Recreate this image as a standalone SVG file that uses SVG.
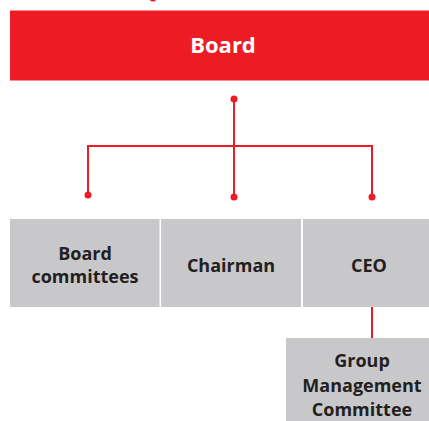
<svg xmlns="http://www.w3.org/2000/svg" width="429" height="421" viewBox="0 0 429 421">
<style>
.box{fill:#c8c8ca}
.t{font-family:"Open Sans","Noto Sans",sans-serif;font-weight:bold;font-size:18px;fill:#231f20;text-anchor:middle}
.w{font-family:"Open Sans","Noto Sans",sans-serif;font-weight:bold;font-size:22px;fill:#ffffff;text-anchor:middle}
.ln{stroke:#ed1c24;stroke-width:2;fill:none}
.dot{fill:#ed1c24}
</style>
<rect width="429" height="421" fill="#ffffff"/>
<circle class="dot" cx="153" cy="-2" r="3.5"/>
<g id="board">
<rect x="10" y="10.5" width="419" height="70" fill="#ed1c24"/>
<text class="w" x="223" y="53">Board</text>
</g>
<g id="connectors">
<path class="ln" d="M234 99V197M88 195V146H372V197"/>
<path class="ln" d="M372 307V338"/>
<circle class="dot" cx="234" cy="99" r="3.5"/>
<circle class="dot" cx="88" cy="195" r="3.5"/>
<circle class="dot" cx="234" cy="197" r="3.5"/>
<circle class="dot" cx="372" cy="197" r="3.5"/>
</g>
<g id="board-committees">
<rect class="box" x="10" y="219" width="149.5" height="88"/>
<text class="t" x="85" y="260">Board</text>
<text class="t" x="85" y="283">committees</text>
</g>
<g id="chairman">
<rect class="box" x="161" y="219" width="140" height="88"/>
<text class="t" x="231" y="272">Chairman</text>
</g>
<g id="ceo">
<rect class="box" x="303" y="219" width="126" height="88"/>
<text class="t" x="369" y="272">CEO</text>
</g>
<g id="group-management-committee">
<rect class="box" x="286" y="338" width="143" height="83"/>
<text class="t" x="362" y="367">Group</text>
<text class="t" x="362" y="392">Management</text>
<text class="t" x="362" y="416">Committee</text>
</g>
</svg>
